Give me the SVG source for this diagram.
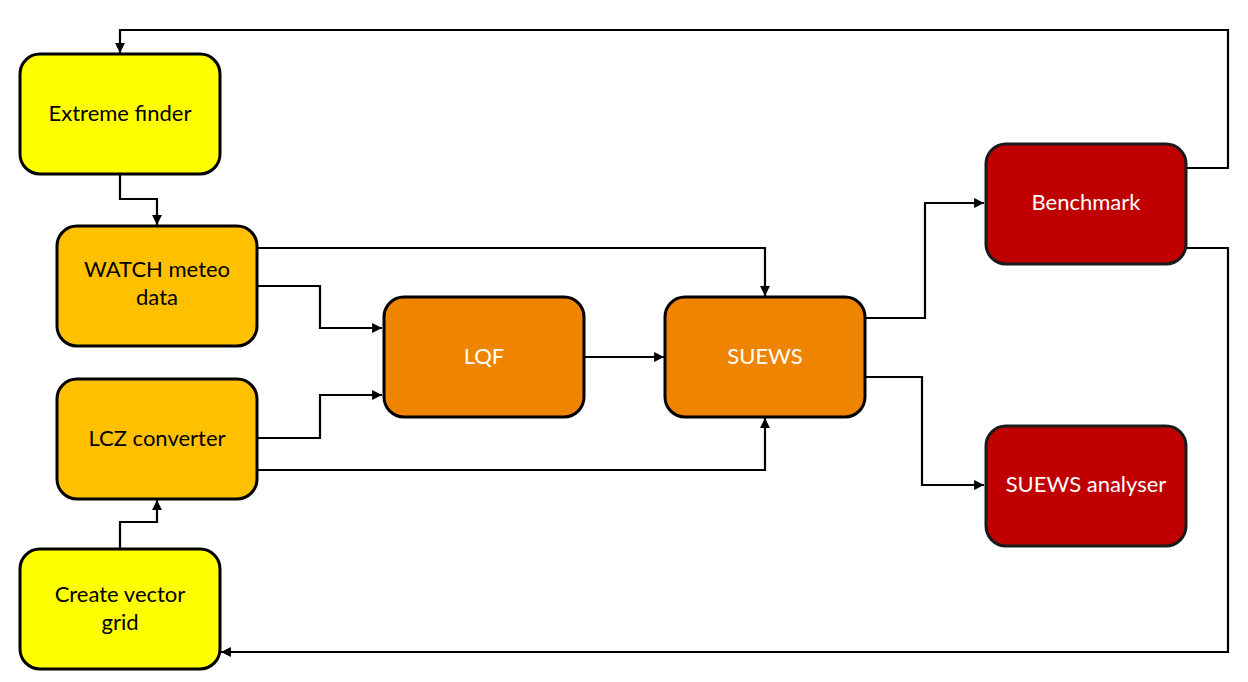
<svg xmlns="http://www.w3.org/2000/svg" width="1248" height="682" viewBox="0 0 1248 682">
<defs>
<marker id="ah" viewBox="0 0 10 10" refX="10" refY="5" markerWidth="4.5" markerHeight="4.5" orient="auto" markerUnits="strokeWidth">
<path d="M0,0 L10,5 L0,10 z" fill="#000"/>
</marker>
<style>
.box{stroke:#000;stroke-width:3}
.y{fill:#FFFF00}
.o{fill:#FFC000}
.d{fill:#EF8400}
.r{fill:#C00000;stroke:#1a1a1a}
.t{font-family:Lato,"Liberation Sans",sans-serif;font-size:22px;text-anchor:middle}
.tb{fill:#000}
.tw{fill:#fff}
.c{fill:none;stroke:#000;stroke-width:2.2;marker-end:url(#ah)}
</style>
</defs>
<rect width="1248" height="682" fill="#fff"/>
<g id="connectors">
<path class="c" d="M1186,168 H1228 V30 H120 V53"/>
<path class="c" d="M1186,248 H1228 V652 H221"/>
<path class="c" d="M120,174 V199 H157 V225"/>
<path class="c" d="M257,248 H765 V296"/>
<path class="c" d="M257,286 H320 V328 H382"/>
<path class="c" d="M257,438 H320 V395 H382"/>
<path class="c" d="M257,470 H765 V418"/>
<path class="c" d="M584,357 H664"/>
<path class="c" d="M865,318 H925 V203 H984"/>
<path class="c" d="M862,377 H922 V485 H984"/>
<path class="c" d="M120,549 V522 H157 V500"/>
</g>
<g id="extreme-finder">
<rect class="box y" x="20" y="54" width="200" height="120" rx="20"/>
<text class="t tb" x="120" y="121">Extreme finder</text>
</g>
<g id="watch">
<rect class="box o" x="57" y="226" width="200" height="120" rx="20"/>
<text class="t tb" x="157" y="277">WATCH meteo</text>
<text class="t tb" x="157" y="305">data</text>
</g>
<g id="lcz">
<rect class="box o" x="57" y="379" width="200" height="120" rx="20"/>
<text class="t tb" x="157" y="446">LCZ converter</text>
</g>
<g id="vector-grid">
<rect class="box y" x="20" y="549" width="200" height="120" rx="20"/>
<text class="t tb" x="120" y="602">Create vector</text>
<text class="t tb" x="120" y="630">grid</text>
</g>
<g id="lqf">
<rect class="box d" x="384" y="297" width="200" height="120" rx="20"/>
<text class="t tw" x="484" y="364">LQF</text>
</g>
<g id="suews">
<rect class="box d" x="665" y="297" width="200" height="120" rx="20"/>
<text class="t tw" x="765" y="364">SUEWS</text>
</g>
<g id="benchmark">
<rect class="box r" x="986" y="144" width="200" height="120" rx="20"/>
<text class="t tw" x="1086" y="210">Benchmark</text>
</g>
<g id="suews-analyser">
<rect class="box r" x="986" y="426" width="200" height="120" rx="20"/>
<text class="t tw" x="1086" y="492">SUEWS analyser</text>
</g>
</svg>
